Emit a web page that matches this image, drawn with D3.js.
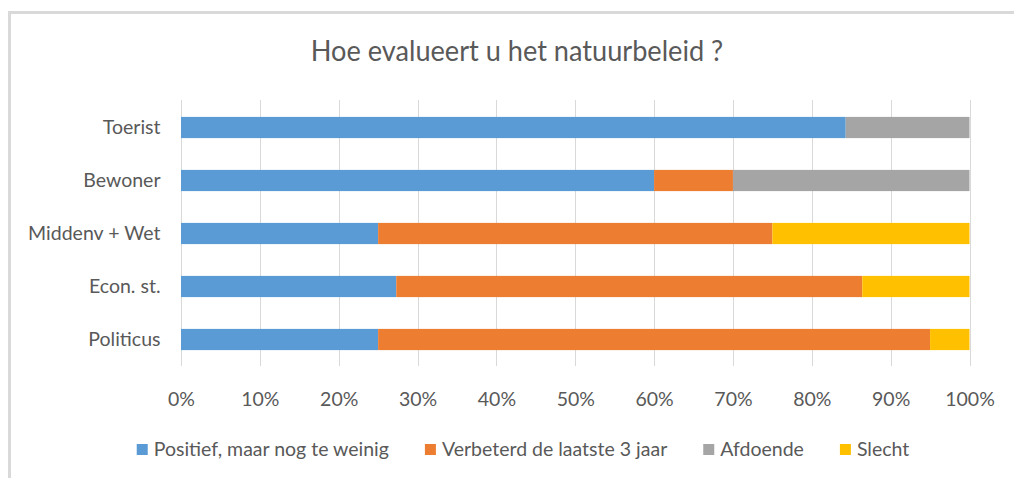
<!DOCTYPE html>
<html>
<head>
<meta charset="utf-8">
<script src="https://cdn.jsdelivr.net/npm/d3@7"></script>
<style>
  html, body { margin: 0; padding: 0; background: #fff; overflow: hidden; }
  svg { display: block; }
  text { font-family: Lato, "Open Sans", sans-serif; fill: #595959; }
</style>
</head>
<body>
<svg id="chart" width="1014" height="478"></svg>
<script>
// Respondent groups, top to bottom
const categories = ["Toerist", "Bewoner", "Middenv + Wet", "Econ. st.", "Politicus"];

// Share of answers per group (%)
const positief  = [84.3, 60, 25, 27.3, 25];
const verbeterd = [0, 10, 50, 59.1, 70];
const afdoende  = [15.7, 30, 0, 0, 0];
const slecht    = [0, 0, 25, 13.6, 5];

const seriesNames  = ["Positief, maar nog te weinig", "Verbeterd de laatste 3 jaar", "Afdoende", "Slecht"];
const seriesColors = ["#5B9BD5", "#ED7D31", "#A5A5A5", "#FFC000"];
const tickValues   = [0, 10, 20, 30, 40, 50, 60, 70, 80, 90, 100];
const chartTitle   = "Hoe evalueert u het natuurbeleid ?";

// horizontal squeeze for the title lettering
const TITLE_SX = 0.936;

const svg = d3.select("#chart");

// chart frame: only the top and left edges fall inside the view
const frame = svg.append("g")
  .attr("stroke", "#d9d9d9").attr("stroke-width", 3);
frame.append("line").attr("x1", 8).attr("x2", 1014).attr("y1", 12.5).attr("y2", 12.5);
frame.append("line").attr("x1", 9.5).attr("x2", 9.5).attr("y1", 11).attr("y2", 478);

const plot = { left: 181, right: 969.5, top: 101, bottom: 366 };

const x = d3.scaleLinear().domain([0, 100]).range([plot.left, plot.right]);
const y = d3.scaleBand().domain(categories).range([plot.top, plot.bottom])
  .paddingInner(0.6).paddingOuter(0.3);

// gridlines
svg.append("g")
  .selectAll("line")
  .data(tickValues)
  .join("line")
  .attr("x1", d => Math.round(x(d)) + 0.5).attr("x2", d => Math.round(x(d)) + 0.5)
  .attr("y1", plot.top - 1).attr("y2", plot.bottom)
  .attr("stroke", "#d9d9d9").attr("stroke-width", 1);

// stacked bars
const rows = categories.map((c, i) => ({
  cat: c,
  "0": positief[i], "1": verbeterd[i], "2": afdoende[i], "3": slecht[i]
}));
const stack = d3.stack().keys(["0", "1", "2", "3"])(rows);

svg.append("g")
  .selectAll("g")
  .data(stack)
  .join("g")
  .attr("fill", (d, i) => seriesColors[i])
  .selectAll("rect")
  .data(d => d)
  .join("rect")
  .attr("x", d => x(d[0]))
  .attr("y", d => y(d.data.cat))
  .attr("width", d => x(d[1]) - x(d[0]))
  .attr("height", y.bandwidth());

// bottom axis labels
const xAxis = svg.append("g")
  .attr("transform", `translate(0,${plot.bottom})`)
  .call(d3.axisBottom(x).tickValues(tickValues).tickFormat(d => d + "%").tickSize(0).tickPadding(25.7));
xAxis.select(".domain").remove();
xAxis.selectAll("text")
  .style("font-size", "19.5px")
  .style("font-family", "Lato, 'Open Sans', sans-serif")
  .attr("fill", "#595959");

// category labels
const yAxis = svg.append("g")
  .attr("transform", `translate(${plot.left},0)`)
  .call(d3.axisLeft(y).tickSize(0).tickPadding(20.5));
yAxis.select(".domain").remove();
yAxis.selectAll("text")
  .style("font-size", "19.5px")
  .style("font-family", "Lato, 'Open Sans', sans-serif")
  .attr("fill", "#595959");

// title
svg.append("g")
  .attr("transform", "translate(517,61)")
  .append("text")
  .attr("text-anchor", "middle")
  .attr("transform", `scale(${TITLE_SX},1)`)
  .style("font-size", "29px")
  .text(chartTitle);

// legend
const legend = svg.append("g");
const items = legend.selectAll("g")
  .data(seriesNames)
  .join("g");
items.append("rect")
  .attr("width", 11).attr("height", 11)
  .attr("y", 444)
  .attr("fill", (d, i) => seriesColors[i]);
items.append("text")
  .attr("y", 455.7)
  .style("font-size", "19.5px")
  .text(d => d);

const swatch = 11, swatchGap = 6, itemGap = 36;
const widths = [];
items.each(function () {
  widths.push(d3.select(this).select("text").node().getComputedTextLength());
});
const total = d3.sum(widths) + widths.length * (swatch + swatchGap) + (widths.length - 1) * itemGap;
let cx = 523 - total / 2;
items.each(function (d, i) {
  const g = d3.select(this);
  g.select("rect").attr("x", cx);
  g.select("text").attr("x", cx + swatch + swatchGap);
  cx += swatch + swatchGap + widths[i] + itemGap;
});
</script>
</body>
</html>
